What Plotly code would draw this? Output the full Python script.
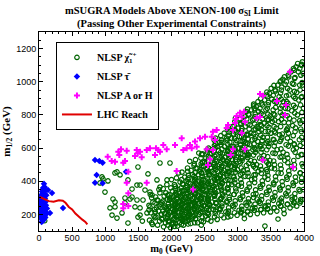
import plotly.graph_objects as go

# ---------------- data ----------------
# NLSP chargino (green open circles): scattered upper-left part
green_a_m0 = [951, 966, 1041, 1147, 1494, 1826, 1977, 1645, 1525, 1404, 1117, 1374, 1147, 1102,
              1253, 1298, 1449, 1570, 1525, 1660, 1781, 1826, 1932, 1781, 1675, 921, 996, 1147,
              1072, 1177, 1343, 1298, 1404, 1479, 1525, 1494, 1630, 1675, 1751, 1706, 1600, 1479,
              1343, 1223, 1177, 86, 1560, 1700]
green_a_m12 = [426, 414, 402, 450, 486, 510, 510, 444, 377, 353, 293, 293, 245, 196,
               209, 269, 245, 287, 196, 227, 287, 365, 408, 408, 335, 390, 335, 275,
               239, 178, 148, 299, 305, 287, 239, 184, 209, 245, 269, 317, 347, 377,
               408, 438, 456, 162, 160, 150]

# NLSP chargino: main band (grouped by m0 column)
green_b_m0 = [
    1712, 1668, 1735, 1690, 1745, 1660, 1720, 1700, 1680, 1748,
    1790, 1820, 1765, 1845, 1805, 1772, 1838, 1795, 1760, 1825, 1810, 1850, 1755, 1815,
    1880, 1910, 1860, 1935, 1895, 1870, 1925, 1905, 1855, 1940, 1890, 1915, 1875, 1930, 1948, 1852, 1900, 1868,
    1985, 2010, 1960, 2035, 1995, 2048, 1970, 2020, 1955, 2040, 2005, 1978, 2030, 1962, 2015, 1990, 2045, 2000, 2025, 1952, 2038, 1975,
    2090, 2120, 2065, 2140, 2080, 2110, 2055, 2135, 2095, 2060, 2125, 2085, 2145, 2070, 2115, 2100, 2058, 2130, 2075, 2105, 2148, 2052, 2118, 2088,
    2180, 2215, 2160, 2240, 2195, 2225, 2170, 2245, 2205, 2155, 2230, 2190, 2210, 2165, 2248, 2185, 2220, 2175, 2235, 2200, 2158, 2242, 2252, 2168,
    2290, 2260, 2325, 2275, 2310, 2345, 2265, 2300, 2338, 2255, 2320, 2285, 2350, 2270, 2305, 2330, 2280, 2345, 2262, 2315, 2295, 2340, 2275, 2352,
    2395, 2365, 2420, 2380, 2440, 2355, 2410, 2370, 2435, 2400, 2360, 2425, 2390, 2445, 2375, 2415, 2358, 2405, 2430, 2385, 2448, 2362, 2412, 2352,
    2480, 2515, 2460, 2530, 2495, 2470, 2540, 2455, 2505, 2525, 2465, 2490, 2545, 2475, 2510, 2458, 2535, 2485, 2500, 2520, 2468, 2540, 2548, 2452,
    2595, 2560, 2630, 2575, 2615, 2555, 2640, 2585, 2620, 2565, 2600, 2645, 2570, 2610, 2590, 2635, 2558, 2625, 2580, 2605, 2648, 2552, 2612, 2568,
    2690, 2660, 2720, 2675, 2735, 2655, 2705, 2745, 2668, 2715, 2680, 2740, 2695, 2658, 2725, 2685, 2748, 2670, 2710, 2690, 2730, 2665, 2752, 2702,
    2790, 2820, 2760, 2835, 2775, 2805, 2845, 2765, 2815, 2780, 2840, 2795, 2755, 2825, 2785, 2810, 2770, 2848, 2800, 2762, 2830, 2795, 2752, 2838,
    2895, 2860, 2925, 2875, 2940, 2855, 2910, 2885, 2930, 2865, 2945, 2900, 2870, 2920, 2890, 2935, 2858, 2915, 2880, 2905, 2940, 2868, 2925, 2852,
    2990, 3020, 2960, 3035, 2975, 3010, 2955, 3040, 2995, 2965, 3030, 2980, 3015, 2958, 3045, 2985, 3025, 2970, 3005, 3040, 2965, 3048, 2952, 3018,
    3095, 3060, 3125, 3075, 3140, 3055, 3110, 3085, 3130, 3065, 3145, 3100, 3070, 3120, 3090, 3135, 3058, 3115, 3080, 3105, 3130, 3148, 3052, 3098,
    3190, 3220, 3160, 3235, 3175, 3210, 3155, 3240, 3195, 3165, 3230, 3180, 3215, 3158, 3245, 3185, 3225, 3170, 3205, 3240, 3248, 3152, 3198, 3230,
    3295, 3260, 3325, 3275, 3340, 3255, 3310, 3285, 3330, 3265, 3345, 3300, 3270, 3320, 3290, 3335, 3258, 3315, 3280, 3305, 3348, 3252, 3312, 3268,
    3390, 3420, 3360, 3435, 3375, 3410, 3355, 3440, 3395, 3365, 3430, 3380, 3415, 3358, 3445, 3385, 3425, 3370, 3405, 3440, 3448, 3352, 3398, 3432,
    3495, 3460, 3525, 3475, 3540, 3455, 3510, 3485, 3530, 3465, 3545, 3500, 3470, 3520, 3490, 3535, 3458, 3515, 3480, 3505, 3548, 3452, 3512, 3468,
    3590, 3620, 3560, 3635, 3575, 3610, 3555, 3640, 3595, 3565, 3630, 3580, 3615, 3558, 3645, 3585, 3625, 3570, 3605, 3640, 3648, 3552,
    3695, 3660, 3725, 3675, 3740, 3655, 3710, 3685, 3730, 3665, 3745, 3700, 3670, 3720, 3690, 3735, 3658, 3715, 3680, 3705, 3748, 3652,
    3790, 3820, 3760, 3835, 3775, 3810, 3755, 3840, 3795, 3765, 3830, 3780, 3815, 3758, 3845, 3785, 3825, 3770, 3805, 3840, 3848, 3752,
    3890, 3860, 3925, 3875, 3940, 3855, 3910, 3885, 3930, 3865, 3945, 3900, 3870, 3920, 3890, 3935, 3858, 3915, 3880, 3905, 3948, 3852,
    3975, 3990, 3965, 3985, 3970, 3995, 3960, 3980, 3992, 3968, 3978, 3988, 3962, 3975,
]
green_b_m12 = [
    140, 165, 190, 210, 230, 255, 275, 300, 320, 180,
    135, 160, 185, 200, 220, 240, 262, 285, 305, 330, 350, 175, 215, 250,
    125, 150, 170, 190, 205, 220, 235, 250, 270, 290, 310, 330, 355, 380, 160, 200, 240, 280,
    120, 140, 160, 175, 190, 205, 215, 230, 245, 260, 275, 290, 305, 320, 340, 360, 380, 410, 150, 200, 250, 300,
    130, 150, 165, 180, 195, 210, 222, 235, 248, 260, 275, 290, 305, 320, 335, 350, 370, 395, 420, 450, 175, 230, 280, 245,
    135, 155, 170, 185, 200, 212, 225, 238, 250, 262, 275, 288, 300, 315, 330, 345, 362, 380, 400, 425, 455, 480, 195, 265,
    145, 165, 185, 200, 215, 228, 240, 255, 268, 280, 295, 310, 325, 340, 355, 370, 385, 400, 420, 440, 465, 495, 520, 250,
    150, 175, 200, 220, 235, 250, 265, 280, 295, 310, 325, 340, 355, 370, 385, 400, 420, 440, 460, 480, 505, 530, 570, 270,
    155, 190, 215, 235, 255, 270, 290, 305, 320, 340, 355, 375, 390, 410, 430, 450, 470, 490, 515, 540, 565, 590, 260, 380,
    160, 200, 230, 255, 275, 300, 320, 340, 360, 380, 400, 420, 440, 460, 480, 500, 520, 540, 565, 590, 615, 285, 350, 450,
    170, 205, 235, 265, 290, 315, 340, 360, 380, 400, 420, 440, 460, 480, 500, 520, 540, 560, 585, 610, 635, 660, 300, 420,
    180, 215, 250, 280, 310, 335, 360, 385, 405, 425, 445, 465, 485, 505, 525, 545, 565, 585, 610, 635, 660, 690, 400, 520,
    190, 220, 255, 290, 320, 350, 380, 405, 430, 450, 470, 490, 510, 530, 550, 570, 590, 610, 635, 660, 685, 710, 730, 460,
    195, 225, 260, 300, 340, 375, 410, 440, 470, 495, 520, 545, 570, 595, 620, 645, 670, 695, 720, 750, 780, 210, 500, 600,
    200, 230, 270, 310, 350, 390, 430, 465, 495, 525, 555, 580, 605, 630, 655, 680, 705, 730, 760, 790, 820, 215, 540, 640,
    200, 235, 275, 320, 365, 410, 450, 490, 525, 560, 590, 620, 650, 680, 710, 740, 770, 800, 830, 855, 225, 560, 690, 500,
    205, 240, 280, 325, 370, 415, 460, 500, 540, 575, 610, 640, 670, 700, 730, 760, 790, 820, 850, 880, 230, 600, 720, 440,
    210, 245, 290, 335, 380, 425, 470, 515, 555, 595, 630, 665, 700, 735, 770, 800, 830, 860, 890, 920, 235, 620, 750, 470,
    215, 255, 300, 345, 390, 435, 480, 525, 570, 610, 650, 690, 725, 760, 795, 830, 860, 895, 930, 960, 240, 640, 780, 500,
    220, 265, 310, 360, 405, 450, 500, 545, 590, 635, 680, 720, 760, 800, 840, 875, 910, 945, 980, 1000, 250, 700,
    230, 275, 325, 375, 425, 475, 525, 575, 620, 665, 710, 755, 800, 840, 880, 915, 950, 985, 1015, 1030, 260, 650,
    240, 290, 340, 390, 440, 490, 540, 590, 640, 690, 735, 780, 825, 870, 910, 950, 990, 1030, 1060, 1080, 270, 720,
    250, 300, 350, 400, 450, 500, 550, 600, 650, 700, 750, 800, 845, 890, 935, 980, 1020, 1060, 1090, 1110, 280, 620,
    290, 350, 420, 490, 560, 630, 700, 770, 840, 910, 980, 1050, 1100, 1120,
]

# NLSP chargino: in-between columns of the band (fills the dense core)
green_d_m0 = [
    1948, 1965, 1940, 1958, 1972, 1945, 1962, 1952, 1968, 1942,
    2048, 2062, 2040, 2070, 2055, 2045, 2068, 2052, 2060, 2042, 2072, 2050, 2065, 2058,
    2150, 2165, 2142, 2170, 2155, 2148, 2162, 2175, 2145, 2158, 2168, 2152, 2140, 2172, 2160, 2146, 2166, 2154,
    2250, 2238, 2262, 2245, 2270, 2255, 2242, 2265, 2250, 2235, 2268, 2248, 2258, 2240, 2272, 2252, 2236, 2262, 2246, 2256, 2244,
    2350, 2362, 2340, 2370, 2355, 2345, 2366, 2352, 2338, 2372, 2348, 2360, 2342, 2368, 2356, 2346, 2364, 2350, 2340, 2358, 2368, 2344,
    2450, 2462, 2440, 2470, 2455, 2445, 2466, 2452, 2438, 2472, 2448, 2460, 2442, 2468, 2456, 2446, 2464, 2450, 2440, 2458, 2468, 2444, 2454,
    2550, 2538, 2562, 2545, 2570, 2555, 2542, 2565, 2550, 2535, 2568, 2548, 2558, 2540, 2572, 2552, 2536, 2562, 2546, 2556, 2544, 2560,
    2650, 2662, 2640, 2670, 2655, 2645, 2666, 2652, 2638, 2672, 2648, 2660, 2642, 2668, 2656, 2646, 2664, 2650, 2640, 2658, 2668, 2644,
    2750, 2738, 2762, 2745, 2770, 2755, 2742, 2765, 2750, 2735, 2768, 2748, 2758, 2740, 2772, 2752, 2736, 2762, 2746, 2756, 2744,
    2850, 2862, 2840, 2870, 2855, 2845, 2866, 2852, 2838, 2872, 2848, 2860, 2842, 2868, 2856, 2846, 2864, 2850, 2840, 2858, 2868, 2844,
    2950, 2938, 2962, 2945, 2970, 2955, 2942, 2965, 2950, 2935, 2968, 2948, 2958, 2940, 2972, 2952, 2936, 2962, 2946, 2956,
    3050, 3062, 3040, 3070, 3055, 3045, 3066, 3052, 3038, 3072, 3048, 3060, 3042, 3068, 3056, 3046, 3064, 3050, 3040, 3058,
    3150, 3138, 3162, 3145, 3170, 3155, 3142, 3165, 3150, 3135, 3168, 3148, 3158, 3140, 3172, 3152, 3136, 3162, 3146,
    3250, 3262, 3240, 3270, 3255, 3245, 3266, 3252, 3238, 3272, 3248, 3260, 3242, 3268, 3256, 3246, 3264, 3250, 3240,
    3350, 3338, 3362, 3345, 3370, 3355, 3342, 3365, 3350, 3335, 3368, 3348, 3358, 3340, 3372, 3352, 3336, 3362, 3346,
    3450, 3462, 3440, 3470, 3455, 3445, 3466, 3452, 3438, 3472, 3448, 3460, 3442, 3468, 3456, 3446, 3464, 3450, 3440,
    3550, 3538, 3562, 3545, 3570, 3555, 3542, 3565, 3550, 3535, 3568, 3548, 3558, 3540, 3572, 3552, 3536, 3562, 3546,
    3650, 3662, 3640, 3670, 3655, 3645, 3666, 3652, 3638, 3672, 3648, 3660, 3642, 3668, 3656, 3646, 3664, 3650,
    3750, 3738, 3762, 3745, 3770, 3755, 3742, 3765, 3750, 3735, 3768, 3748, 3758, 3740, 3772, 3752, 3736, 3762,
    3850, 3862, 3840, 3870, 3855, 3845, 3866, 3852, 3838, 3872, 3848, 3860, 3842, 3868, 3856, 3846, 3864, 3850,
    3950, 3938, 3962, 3945, 3970, 3955, 3942, 3965, 3950, 3935, 3968, 3948, 3958, 3940, 3972, 3952, 3936, 3962,
]
green_d_m12 = [
    135, 155, 178, 198, 212, 228, 245, 262, 285, 315,
    128, 145, 168, 185, 200, 218, 238, 255, 268, 285, 298, 315, 330, 355,
    140, 160, 172, 190, 205, 218, 232, 242, 255, 270, 285, 298, 312, 328, 342, 360, 385, 410,
    142, 162, 180, 192, 208, 220, 232, 245, 258, 272, 282, 295, 308, 322, 338, 352, 372, 392, 412, 435, 460,
    150, 172, 192, 208, 222, 235, 248, 262, 275, 288, 302, 318, 332, 348, 362, 378, 392, 410, 430, 452, 478, 505,
    160, 185, 210, 228, 242, 258, 272, 288, 302, 318, 332, 348, 362, 378, 395, 410, 430, 450, 470, 492, 515, 540, 562,
    170, 205, 225, 245, 262, 282, 298, 315, 330, 348, 365, 385, 400, 418, 438, 458, 478, 500, 525, 550, 575, 600,
    185, 220, 250, 272, 292, 310, 330, 350, 370, 390, 410, 430, 450, 470, 490, 510, 530, 552, 575, 600, 625, 648,
    195, 232, 265, 295, 322, 348, 370, 392, 412, 432, 452, 472, 492, 512, 532, 552, 572, 595, 620, 648, 675,
    205, 240, 272, 302, 330, 358, 385, 410, 435, 458, 478, 498, 518, 540, 560, 580, 600, 622, 648, 672, 698, 718,
    210, 245, 282, 320, 355, 390, 425, 455, 482, 508, 532, 558, 582, 608, 632, 658, 682, 708, 735, 760,
    215, 250, 290, 330, 370, 410, 448, 480, 510, 540, 568, 592, 618, 642, 668, 692, 718, 745, 775, 800,
    220, 255, 295, 340, 385, 430, 470, 508, 542, 572, 600, 628, 655, 685, 715, 745, 775, 805, 835,
    225, 262, 302, 348, 392, 438, 480, 520, 558, 592, 625, 655, 685, 715, 745, 775, 805, 838, 865,
    228, 268, 312, 358, 402, 448, 492, 535, 575, 612, 645, 678, 710, 742, 775, 808, 840, 872, 898,
    232, 275, 320, 365, 412, 458, 505, 548, 590, 628, 665, 700, 735, 770, 805, 840, 875, 910, 938,
    240, 285, 332, 380, 428, 475, 522, 568, 612, 652, 692, 730, 768, 805, 845, 882, 918, 952, 978,
    250, 298, 348, 398, 448, 498, 548, 595, 640, 685, 730, 772, 815, 855, 895, 932, 968, 1005,
    262, 312, 362, 412, 462, 512, 562, 612, 660, 708, 752, 795, 838, 880, 920, 960, 1000, 1040,
    275, 325, 375, 425, 475, 525, 575, 625, 675, 722, 768, 812, 858, 900, 942, 985, 1025, 1070,
    290, 340, 395, 450, 505, 560, 615, 665, 715, 765, 815, 860, 905, 950, 995, 1040, 1080, 1105,
]

# NLSP chargino: sparse points below the band
green_c_m0 = [2170, 2310, 2550, 2730, 3185, 3410, 3608, 3410, 3820, 3834, 3940, 3640, 3290, 2850, 3100, 3700, 2450]
green_c_m12 = [166, 178, 209, 227, 263, 251, 172, 130, 305, 257, 269, 287, 293, 185, 175, 205, 135]

# NLSP stau (blue diamonds)
blue_m0 = [40, 55, 70, 25, 45, 60, 80, 95, 20, 40, 55, 70, 90, 110, 15, 35, 50, 65, 85, 100,
           20, 40, 60, 75, 95, 120, 25, 45, 65, 85, 105, 20, 40, 60, 80, 100, 30, 50, 70, 90,
           35, 55, 80, 110, 45, 70, 95, 136, 60, 85, 75, 5, 8, 10, 196, 166, 362,
           845, 910, 960, 870, 845, 960, 1313]
blue_m12 = [155, 160, 168, 178, 182, 185, 188, 182, 198, 202, 205, 200, 208, 203, 218, 222, 225, 220, 228, 215,
            238, 240, 245, 248, 242, 236, 258, 262, 266, 260, 255, 278, 282, 285, 288, 276, 298, 302, 305, 296,
            318, 322, 326, 315, 338, 342, 345, 347, 360, 365, 385, 200, 250, 300, 329, 208, 239,
            528, 522, 512, 438, 391, 388, 458]

# NLSP A or H (magenta crosses)
mag_m0 = [1037, 1097, 1197, 1238, 1212, 1324, 1147, 1272, 1298, 1475, 1525, 1490, 1449, 1550, 1675, 1766,
          1801, 1826, 1876, 1928, 2053, 2078, 1348, 1324, 1348, 1272, 1626, 1626, 1751, 1272, 1348,
          3788, 3336, 3381, 3592, 3034, 3094, 2984, 3060, 2974, 2958, 3109, 3286, 3336, 3713, 3728,
          2853, 2833, 2928, 3060, 2626, 2682, 2607, 2657, 2506, 2430, 2355, 2380, 2154, 2279, 2305,
          2229, 2178, 2531, 2626, 2928, 3109, 2894, 2581, 2551, 2325, 3377, 3834]
mag_m12 = [548, 522, 578, 593, 558, 584, 518, 512, 522, 588, 578, 569, 552, 544, 599, 599,
           588, 578, 619, 593, 619, 462, 458, 391, 327, 237, 391, 588, 558, 263, 251,
           1061, 926, 916, 884, 813, 819, 794, 788, 775, 751, 759, 781, 788, 800, 860,
           739, 721, 709, 691, 699, 709, 669, 649, 669, 659, 639, 608, 659, 619, 599,
           599, 588, 593, 588, 593, 593, 558, 532, 498, 351, 528, 484]

# LHC reach (red line)
lhc_m0 = [10, 80, 150, 220, 300, 360, 400, 450, 500, 550, 600, 650, 700, 730]
lhc_m12 = [305, 290, 280, 276, 285, 283, 270, 245, 230, 205, 185, 170, 155, 140]

x_ticks = [0, 500, 1000, 1500, 2000, 2500, 3000, 3500, 4000]
y_ticks = [200, 400, 600, 800, 1000, 1200]

title_lines = ["<b>mSUGRA Models Above XENON-100 σ<sub>SI</sub> Limit</b>",
               "<b>(Passing Other Experimental Constraints)</b>"]

# ---------------- figure ----------------
SERIF = "Liberation Serif"
SANS = "Liberation Sans"

fig = go.Figure()
fig.add_trace(go.Scatter(
    x=green_a_m0 + green_b_m0 + green_d_m0 + green_c_m0,
    y=green_a_m12 + green_b_m12 + green_d_m12 + green_c_m12,
    mode="markers", name="<b>NLSP χ̃<sub>1</sub><sup>+</sup></b>",
    marker=dict(symbol="circle-open", size=4.5, color="#006400", line=dict(width=1.2, color="#006400")),
))
fig.add_trace(go.Scatter(
    x=blue_m0, y=blue_m12, mode="markers", name="<b>NLSP τ̄</b>",
    marker=dict(symbol="diamond", size=5, color="#0000ff", line=dict(width=0)),
))
fig.add_trace(go.Scatter(
    x=mag_m0, y=mag_m12, mode="markers", name="<b>NLSP A or H</b>",
    marker=dict(symbol="cross", size=5, color="#ff00ff", line=dict(width=0)),
))
fig.add_trace(go.Scatter(
    x=lhc_m0, y=lhc_m12, mode="lines", name="<b>LHC Reach</b>",
    line=dict(color="#e00000", width=2),
))

axis_common = dict(
    showline=True, linecolor="black", linewidth=1, mirror="allticks",
    ticks="inside", ticklen=4, tickcolor="black", showgrid=False, zeroline=False,
    tickfont=dict(family=SANS, size=9, color="black"), automargin=False,
)
fig.update_xaxes(
    range=[0, 4000], tickvals=x_ticks, ticktext=[str(v) for v in x_ticks],
    minor=dict(ticks="inside", ticklen=2, dtick=100, tickcolor="black"),
    ticklabelstandoff=-2,
    title=dict(text="<b>m<sub>0</sub> (GeV)</b>", font=dict(family=SERIF, size=10.5, color="black"), standoff=1),
    **axis_common,
)
fig.update_yaxes(
    range=[100, 1300], tickvals=y_ticks, ticktext=[str(v) for v in y_ticks],
    minor=dict(ticks="inside", ticklen=2, dtick=50, tickcolor="black"),
    title=dict(text="<b>m<sub>1/2</sub> (GeV)</b>", font=dict(family=SERIF, size=11, color="black")),
    **axis_common,
)
fig.update_layout(
    width=320, height=256,
    margin=dict(l=39, r=16, t=32, b=25, autoexpand=False),
    paper_bgcolor="white", plot_bgcolor="white",
    showlegend=True,
    legend=dict(
        x=0.064, y=0.95, xanchor="left", yanchor="top",
        bgcolor="white", bordercolor="black", borderwidth=1,
        font=dict(family=SERIF, size=10, color="black"),
        itemwidth=30, tracegroupgap=0,
    ),
    annotations=[
        dict(text=title_lines[0], xref="paper", yref="paper", x=0.5, y=1.1055,
             xanchor="center", yanchor="middle", showarrow=False,
             font=dict(family=SERIF, size=10.5, color="black")),
        dict(text=title_lines[1], xref="paper", yref="paper", x=0.5, y=1.0402,
             xanchor="center", yanchor="middle", showarrow=False,
             font=dict(family=SERIF, size=10.5, color="black")),
    ],
)

fig.write_html("out.html", config={"displayModeBar": False},
               post_script="document.body.style.margin='0px';")
